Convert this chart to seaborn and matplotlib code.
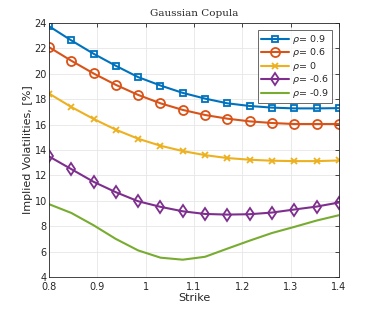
import numpy as np
import pandas as pd
import matplotlib
matplotlib.use("Agg")
import matplotlib.pyplot as plt
import seaborn as sns

strikes = [0.8, 0.8462, 0.8923, 0.9385, 0.9846, 1.0308, 1.0769, 1.1231,
           1.1692, 1.2154, 1.2615, 1.3077, 1.3538, 1.4]
vol_p09 = [23.75, 22.63, 21.58, 20.63, 19.74, 19.08, 18.5, 18.05, 17.68, 17.47, 17.34, 17.28, 17.28, 17.3]
vol_p06 = [22.1, 21.03, 20.03, 19.13, 18.34, 17.68, 17.16, 16.76, 16.47, 16.26, 16.13, 16.05, 16.05, 16.05]
vol_0 = [18.45, 17.39, 16.45, 15.6, 14.89, 14.34, 13.92, 13.6, 13.37, 13.24, 13.16, 13.13, 13.13, 13.18]
vol_m06 = [13.5, 12.5, 11.5, 10.68, 9.97, 9.53, 9.18, 8.97, 8.92, 8.95, 9.08, 9.32, 9.55, 9.87]
vol_m09 = [9.74, 9.05, 8.08, 7.0, 6.1, 5.53, 5.37, 5.6, 6.24, 6.87, 7.47, 7.95, 8.45, 8.87]
labels = [r"$\rho$= 0.9", r"$\rho$= 0.6", r"$\rho$= 0", r"$\rho$= -0.6", r"$\rho$= -0.9"]

series = [vol_p09, vol_p06, vol_0, vol_m06, vol_m09]
colors = ["#0072BD", "#D95319", "#EDB120", "#7E2F8E", "#77AC30"]
markers = ["s", "o", "x", "d", None]
msizes = [5, 6.5, 4.5, 6.5, 0]

sns.set_style("white")
plt.rcParams["font.family"] = ["DejaVu Sans"]

fig = plt.figure(figsize=(3.74, 3.11), dpi=100)
ax = fig.add_axes([0.131, 0.109, 0.775, 0.817])

for vals, lab, c, m, ms in zip(series, labels, colors, markers, msizes):
    df = pd.DataFrame({"Strike": strikes, "vol": vals})
    kw = {}
    if m is not None:
        kw = dict(marker=m, markersize=ms, markerfacecolor="none",
                  markeredgecolor=c, markeredgewidth=1.3)
    sns.lineplot(data=df, x="Strike", y="vol", ax=ax, color=c, lw=1.5,
                 label=lab, **kw)

ax.set_xlim(0.8, 1.4)
ax.set_ylim(4, 24)
ax.set_xticks([0.8, 0.9, 1.0, 1.1, 1.2, 1.3, 1.4])
ax.set_xticklabels(["0.8", "0.9", "1", "1.1", "1.2", "1.3", "1.4"])
ax.set_yticks(range(4, 25, 2))
ax.grid(True, color="#e6e6e6", lw=0.6)
ax.tick_params(direction="in", length=3, width=0.6, labelsize=7,
               top=True, right=True, colors="#262626", pad=2)
ax.tick_params(axis="x", pad=3.5)
ax.tick_params(axis="y", pad=1.5)
for s in ax.spines.values():
    s.set_color("#262626")
    s.set_linewidth(0.6)
ax.set_xlabel("Strike", fontsize=8, color="#262626", labelpad=1)
ax.set_ylabel("Implied Volatilities, [%]", fontsize=8, color="#262626", labelpad=1)
ax.set_title("Gaussian Copula", fontsize=7.5, family="DejaVu Serif", pad=5)
leg = ax.legend(loc="upper right", fontsize=6.8, frameon=True, fancybox=False,
                edgecolor="#262626", handlelength=3.0, borderpad=0.35,
                labelspacing=0.05, handletextpad=0.3, borderaxespad=0.7)
leg.get_frame().set_linewidth(0.6)

fig.savefig("out.png", dpi=100)
